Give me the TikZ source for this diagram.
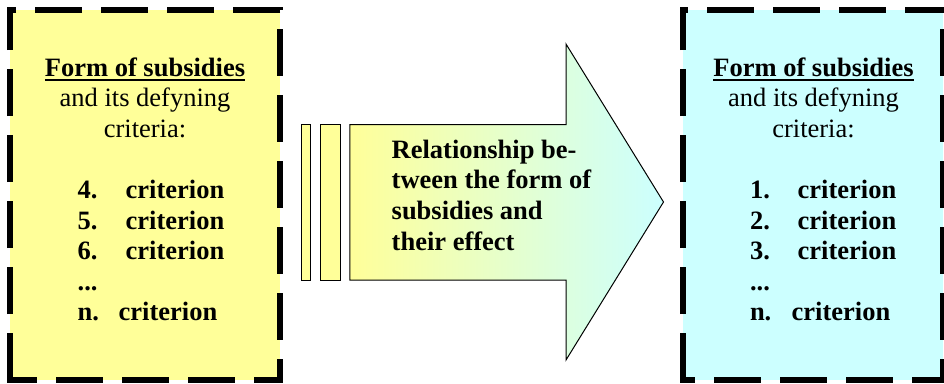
\documentclass[tikz,border=0pt]{standalone}
\usepackage{fontspec}
\setmainfont{Liberation Serif}
\definecolor{paleyellow}{HTML}{FFFF99}
\definecolor{palecyan}{HTML}{CCFFFF}
\begin{document}
\begin{tikzpicture}[x=1pt,y=-1pt,
  txt/.style={inner sep=0pt, outer sep=0pt, font=\fontsize{26.5}{30.6}\selectfont},
  hd/.style={txt, anchor=base},
  hdbold/.style={hd, font=\fontsize{26.5}{30.6}\selectfont\bfseries},
  crit/.style={txt, anchor=base west, font=\fontsize{26.5}{30.6}\selectfont\bfseries},
  panel/.style={rectangle, inner sep=0pt, outer sep=0pt, minimum height=370pt},
  boxedge/.style={line width=5.5pt, dash pattern=on 47pt off 19pt, dash phase=#1},
  sidebar/.style={rectangle, draw=black, line width=1pt, fill=paleyellow,
                  inner sep=0pt, outer sep=0pt, minimum height=155.7pt},
  ulin/.style={line width=2.2pt},
]
\useasboundingbox (0,0) rectangle (944,383);

% ---------- left panel ----------
\node[panel, fill=paleyellow, minimum width=270pt] (lb) at (145,195) {};
\draw[boxedge=63.25] ([xshift=2.75pt]lb.north east) -- ([xshift=-2.75pt]lb.north west);
\draw[boxedge=63.25] ([yshift=-2.75pt]lb.south west) -- ([yshift=2.75pt]lb.north west);
\draw[boxedge=17.25] ([xshift=-2.75pt]lb.south west) -- ([xshift=2.75pt]lb.south east);
\draw[boxedge=44.25] ([yshift=2.75pt]lb.north east) -- ([yshift=-2.75pt]lb.south east);

\node[hdbold] (lh1) at (145,76) {Form of subsidies};
\draw[ulin] ([yshift=-4pt]lh1.base west) -- ([yshift=-4pt]lh1.base east);
\node[hd] (lh2) at (145,106.6) {and its defyning};
\node[hd] (lh3) at (145,137.2) {criteria:};

\node[crit] (ln4) at (77.7,198.4) {4.};
\node[crit] (lc4) at (125.7,198.4) {criterion};
\node[crit] (ln5) at (77.7,229) {5.};
\node[crit] (lc5) at (125.7,229) {criterion};
\node[crit] (ln6) at (77.7,259.6) {6.};
\node[crit] (lc6) at (125.7,259.6) {criterion};
\node[crit] (ldots) at (77.7,290.2) {...};
\node[crit] (lnn) at (77.7,320.8) {n.};
\node[crit] (lcn) at (118.7,320.8) {criterion};

% ---------- right panel ----------
\node[panel, fill=palecyan, minimum width=260pt] (rb) at (813,195) {};
\draw[boxedge=39.25] ([xshift=-2.75pt]rb.north west) -- ([xshift=2.75pt]rb.north east);
\draw[boxedge=63.25] ([yshift=-2.75pt]rb.south west) -- ([yshift=2.75pt]rb.north west);
\draw[boxedge=32.25] ([xshift=-2.75pt]rb.south west) -- ([xshift=2.75pt]rb.south east);
\draw[boxedge=44.25] ([yshift=2.75pt]rb.north east) -- ([yshift=-2.75pt]rb.south east);

\node[hdbold] (rh1) at (813.5,76) {Form of subsidies};
\draw[ulin] ([yshift=-4pt]rh1.base west) -- ([yshift=-4pt]rh1.base east);
\node[hd] (rh2) at (813.5,106.6) {and its defyning};
\node[hd] (rh3) at (813.5,137.2) {criteria:};

\node[crit] (rn1) at (750,198.4) {1.};
\node[crit] (rc1) at (797.7,198.4) {criterion};
\node[crit] (rn2) at (750,229) {2.};
\node[crit] (rc2) at (797.7,229) {criterion};
\node[crit] (rn3) at (750,259.6) {3.};
\node[crit] (rc3) at (797.7,259.6) {criterion};
\node[crit] (rdots) at (750,290.2) {...};
\node[crit] (rnn) at (750,320.8) {n.};
\node[crit] (rcn) at (791.7,320.8) {criterion};

% ---------- block arrow with its two tail bars ----------
\node[sidebar, minimum width=9.3pt] (bar1) at (305.85,202.35) {};
\node[sidebar, minimum width=19.7pt] (bar2) at (330.35,202.35) {};
\draw[line width=1pt, line join=miter, left color=paleyellow, right color=palecyan]
  (349.8,124.5) -- (566,124.5) -- (566,44) -- (663.5,202) -- (566,360)
  -- (566,280.2) -- (349.8,280.2) -- cycle;

\node[crit] (a1) at (391.7,158.3) {Relationship be-};
\node[crit] (a2) at (391.7,188.9) {tween the form of};
\node[crit] (a3) at (391.7,219.5) {subsidies and};
\node[crit] (a4) at (391.7,250.1) {their effect};
\end{tikzpicture}
\end{document}
